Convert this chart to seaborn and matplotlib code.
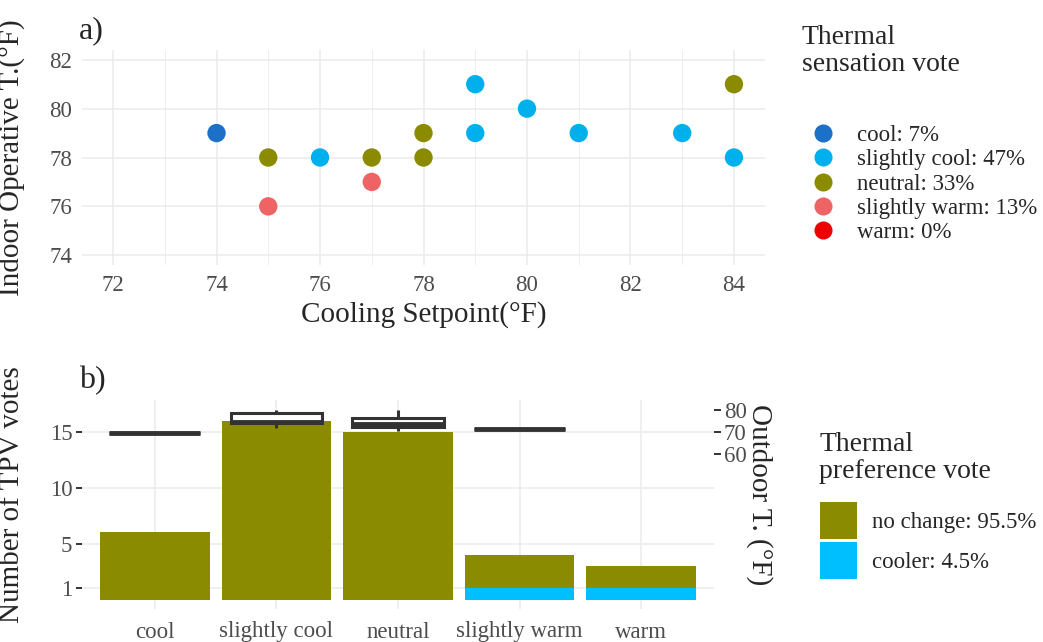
import numpy as np
import pandas as pd
import matplotlib
matplotlib.use("Agg")
import matplotlib.pyplot as plt
from matplotlib.lines import Line2D
from matplotlib.patches import Patch
from matplotlib.ticker import MultipleLocator, FixedLocator
import seaborn as sns

# ---------------- data ----------------
tsv_levels = ["cool", "slightly cool", "neutral", "slightly warm", "warm"]
tsv_colors = ["#1C70C8", "#00B0EC", "#8B8B00", "#EE6363", "#EE0000"]

setpoint = [74, 76, 79, 79, 80, 81, 83, 84, 75, 77, 78, 78, 84, 75, 77]
indoor_t = [79, 78, 81, 79, 80, 79, 79, 78, 78, 78, 79, 78, 81, 76, 77]
tsv_vote = ["cool",
            "slightly cool", "slightly cool", "slightly cool", "slightly cool",
            "slightly cool", "slightly cool", "slightly cool",
            "neutral", "neutral", "neutral", "neutral", "neutral",
            "slightly warm", "slightly warm"]

tpv_no_change = [6, 16, 15, 3, 2]
tpv_cooler = [0, 0, 0, 1, 1]
tpv_colors = ["#8B8B00", "#00BFFF"]

outdoor_cat = ["cool",
               "slightly cool", "slightly cool", "slightly cool", "slightly cool", "slightly cool",
               "neutral", "neutral", "neutral", "neutral", "neutral",
               "slightly warm"]
outdoor_t = [69.5,
             71.7, 73.8, 74.5, 78.6, 80.0,
             70.4, 72.3, 73.3, 76.4, 80.0,
             71.2]

# ---------------- style ----------------
sns.set_style("white")
plt.rcParams["font.family"] = ["Liberation Serif", "DejaVu Serif"]

GRID = "#EBEBEB"
TICKC = "#4D4D4D"
TICKMARK = "#333333"
TICK_FS = 16.5
TITLE_FS = 21
LEG_FS = 16.5
LEGT_FS = 20

fig = plt.figure(figsize=(10.43, 6.42), dpi=100)
W, H = 1043, 642

def axpos(l, t, r, b):
    return [l / W, 1 - b / H, (r - l) / W, (b - t) / H]

# ---------------- panel a ----------------
ax = fig.add_axes(axpos(82, 50, 765, 265))
df_a = pd.DataFrame({"setpoint": setpoint, "indoor": indoor_t, "tsv": tsv_vote})
pal = dict(zip(tsv_levels, tsv_colors))
sns.scatterplot(data=df_a, x="setpoint", y="indoor", hue="tsv", hue_order=tsv_levels,
                palette=pal, s=175, edgecolor="none", linewidth=0, legend=False, ax=ax, zorder=3)
ax.set_xlim(71.4, 84.6)
ax.set_ylim(73.6, 82.4)
ax.xaxis.set_major_locator(MultipleLocator(2))
ax.xaxis.set_minor_locator(MultipleLocator(1))
ax.yaxis.set_major_locator(MultipleLocator(2))
ax.grid(True, which="major", color=GRID, linewidth=1.1)
ax.grid(True, which="minor", axis="x", color=GRID, linewidth=0.6)
ax.set_axisbelow(True)
for s in ax.spines.values():
    s.set_visible(False)
ax.tick_params(which="major", length=4, width=1.4, color=TICKMARK, labelsize=TICK_FS,
               labelcolor=TICKC, pad=3)
ax.tick_params(which="minor", length=0)
ax.set_xlabel("Cooling Setpoint(°F)", fontsize=TITLE_FS, labelpad=4)
ax.set_ylabel("Indoor Operative T.(°F)", fontsize=TITLE_FS)
ax.yaxis.set_label_coords(25 / W, 1 - 158 / H, transform=fig.transFigure)
fig.text(79 / W, 1 - 38 / H, "a)", fontsize=23, ha="left", va="baseline")

# legend a
counts = [tsv_vote.count(l) for l in tsv_levels]
tot = sum(counts)
labels_a = [f"{l}: {round(100 * c / tot):.0f}%" for l, c in zip(tsv_levels, counts)]
handles_a = [Line2D([0], [0], marker="o", linestyle="none", markersize=13,
                    markerfacecolor=c, markeredgecolor="none") for c in tsv_colors]
fig.text(802 / W, 1 - 25 / H, "Thermal\nsensation vote", fontsize=LEGT_FS, ha="left", va="top",
         linespacing=1.08)
fig.legend(handles_a, labels_a, loc="upper left", bbox_to_anchor=(808 / W, 1 - 125 / H),
           frameon=False, fontsize=LEG_FS, borderpad=0, borderaxespad=0, handlelength=1.3,
           handletextpad=0.85, labelspacing=0.14)

# ---------------- panel b ----------------
axb = fig.add_axes(axpos(82, 400, 714, 609))
totals = [n + c for n, c in zip(tpv_no_change, tpv_cooler)]
sns.barplot(x=tsv_levels, y=totals, order=tsv_levels, color=tpv_colors[0], saturation=1,
            width=0.9, ax=axb, zorder=2)
sns.barplot(x=tsv_levels, y=tpv_cooler, order=tsv_levels, color=tpv_colors[1], saturation=1,
            width=0.9, ax=axb, zorder=2)
for p in axb.patches:
    p.set_edgecolor("none")
axb.set_xlim(-0.6, 4.6)
axb.set_ylim(-0.85, 17.85)
axb.yaxis.set_major_locator(FixedLocator([1, 5, 10, 15]))
axb.grid(True, which="major", color=GRID, linewidth=1.1)
axb.set_axisbelow(True)
for s in axb.spines.values():
    s.set_visible(False)
axb.tick_params(which="major", length=4, width=1.4, color=TICKMARK, labelsize=TICK_FS,
                labelcolor=TICKC, pad=3)
axb.tick_params(axis="x", pad=5)
axb.set_xlabel("")
axb.set_ylabel("Number of TPV votes", fontsize=TITLE_FS)
axb.yaxis.set_label_coords(25 / W, 1 - 495 / H, transform=fig.transFigure)
fig.text(79 / W, 1 - 388 / H, "b)", fontsize=23, ha="left", va="baseline")

# secondary axis with outdoor temperature boxplots
ax2 = axb.twinx()
df_b = pd.DataFrame({"cat": outdoor_cat, "T": outdoor_t})
sns.boxplot(data=df_b, x="cat", y="T", order=tsv_levels, color="white", saturation=1,
            linecolor="#333333", linewidth=2.2, width=0.75, fliersize=0,
            medianprops={"linewidth": 3.5, "color": "#333333"},
            capprops={"linewidth": 0}, ax=ax2)
ax2.set_ylim(70 + (-0.85 - 15) / 0.2, 70 + (17.85 - 15) / 0.2)
ax2.yaxis.set_major_locator(FixedLocator([60, 70, 80]))
for s in ax2.spines.values():
    s.set_visible(False)
ax2.grid(False)
ax2.tick_params(axis="y", which="major", length=5, width=1.4, color=TICKMARK, labelsize=TICK_FS,
                labelcolor=TICKC, pad=2)
ax2.set_ylabel("Outdoor T. (°F)", fontsize=TITLE_FS, rotation=-90)
ax2.yaxis.set_label_coords(773 / W, 1 - 495 / H, transform=fig.transFigure)
axb.set_xlim(-0.6, 4.6)
axb.set_xticks(range(len(tsv_levels)))
axb.set_xticklabels(tsv_levels)

# legend b
labels_b = [f"no change: {100 * sum(tpv_no_change) / sum(totals):.1f}%",
            f"cooler: {100 * sum(tpv_cooler) / sum(totals):.1f}%"]
handles_b = [Patch(facecolor=c, edgecolor="none") for c in tpv_colors]
fig.text(819 / W, 1 - 432 / H, "Thermal\npreference vote", fontsize=LEGT_FS, ha="left", va="top",
         linespacing=1.08)
fig.legend(handles_b, labels_b, loc="upper left", bbox_to_anchor=(820 / W, 1 - 502 / H),
           frameon=False, fontsize=LEG_FS, borderpad=0, borderaxespad=0, handlelength=1.62,
           handleheight=2.1, handletextpad=0.65, labelspacing=0.15)

fig.savefig("out.png", dpi=100)
